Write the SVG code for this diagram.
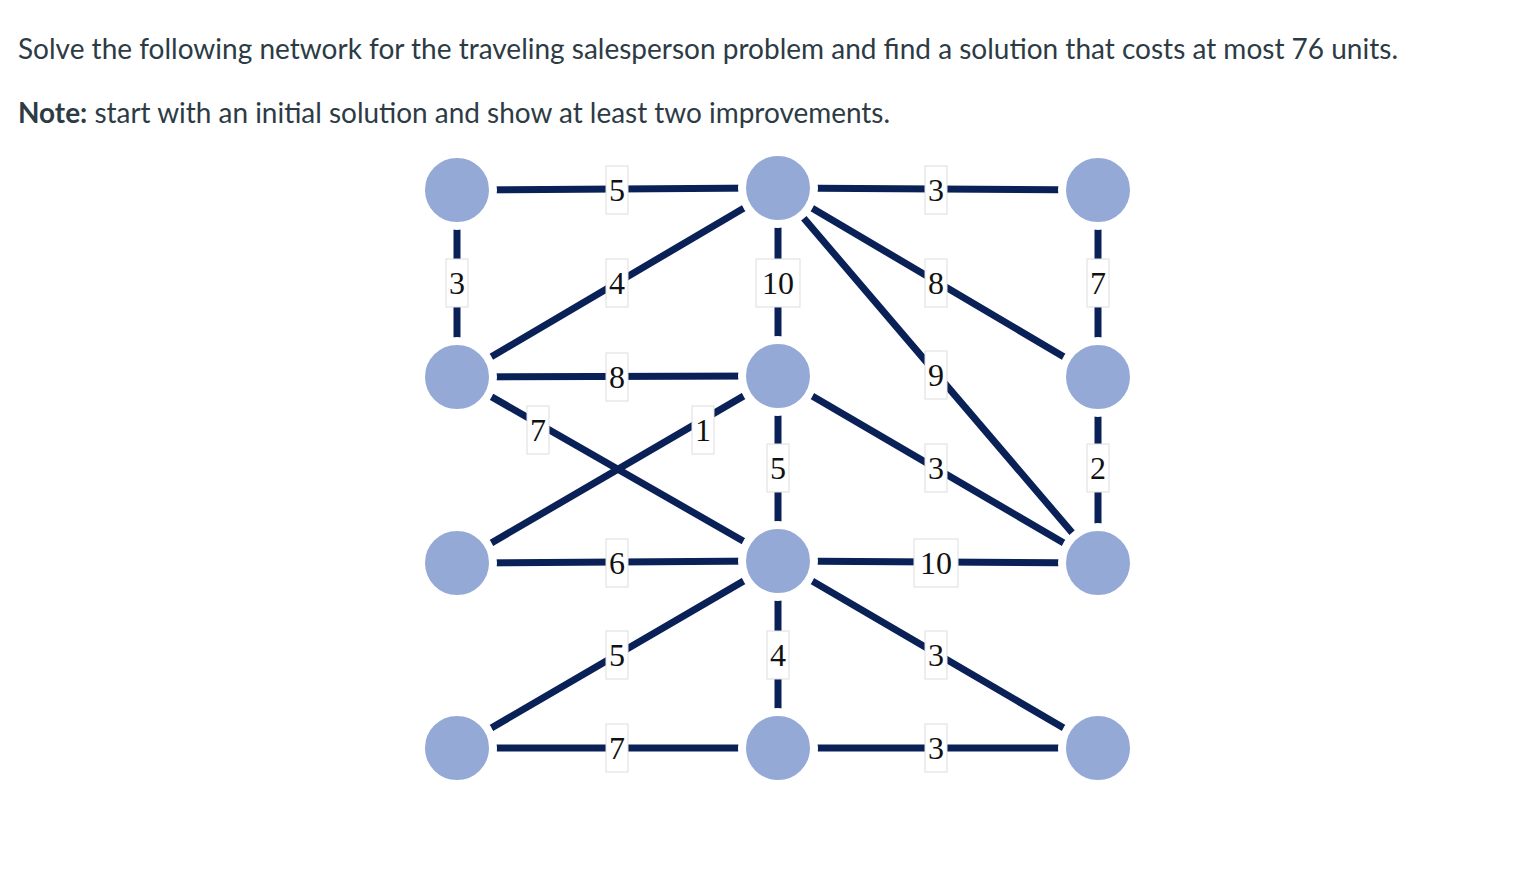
<svg xmlns="http://www.w3.org/2000/svg" width="1514" height="890" viewBox="0 0 1514 890">
<style>
.e{stroke:#0a2158;stroke-width:7;stroke-linecap:round;fill:none}
.n{fill:#94a9d6;stroke:#fff;stroke-width:8}
.lb{fill:#fff;stroke:#ddd;stroke-width:1}
.lt{font-family:"Liberation Serif",serif;font-size:32px;fill:#111;text-anchor:middle}
.t{font-family:Lato,"Liberation Sans",sans-serif;font-size:28px;fill:#2d3b45}
</style>
<rect width="1514" height="890" fill="#fff"/>
<text class="t" x="18" y="59" textLength="1380" lengthAdjust="spacingAndGlyphs">Solve the following network for the traveling salesperson problem and find a solution that costs at most 76 units.</text>
<text class="t" x="18" y="123" textLength="872" lengthAdjust="spacingAndGlyphs"><tspan font-weight="bold">Note:</tspan> start with an initial solution and show at least two improvements.</text>
<g id="connectors">
<line class="e" x1="457" y1="190" x2="778" y2="188"/>
<line class="e" x1="778" y1="188" x2="1098" y2="190"/>
<line class="e" x1="457" y1="190" x2="457" y2="377"/>
<line class="e" x1="457" y1="377" x2="778" y2="188"/>
<line class="e" x1="778" y1="188" x2="778" y2="376"/>
<line class="e" x1="778" y1="188" x2="1098" y2="377"/>
<line class="e" x1="778" y1="188" x2="1098" y2="563"/>
<line class="e" x1="1098" y1="190" x2="1098" y2="377"/>
<line class="e" x1="457" y1="377" x2="778" y2="376"/>
<line class="e" x1="457" y1="377" x2="778" y2="561"/>
<line class="e" x1="457" y1="563" x2="778" y2="376"/>
<line class="e" x1="778" y1="376" x2="778" y2="561"/>
<line class="e" x1="778" y1="376" x2="1098" y2="563"/>
<line class="e" x1="1098" y1="377" x2="1098" y2="563"/>
<line class="e" x1="457" y1="563" x2="778" y2="561"/>
<line class="e" x1="778" y1="561" x2="1098" y2="563"/>
<line class="e" x1="778" y1="561" x2="457" y2="748"/>
<line class="e" x1="778" y1="561" x2="778" y2="748"/>
<line class="e" x1="778" y1="561" x2="1098" y2="748"/>
<line class="e" x1="457" y1="748" x2="778" y2="748"/>
<line class="e" x1="778" y1="748" x2="1098" y2="748"/>
</g>
<g id="labels">
<g><rect class="lb" x="606" y="166" width="22" height="48"/><text class="lt" x="617" y="201">5</text></g>
<g><rect class="lb" x="925" y="166" width="22" height="48"/><text class="lt" x="936" y="201">3</text></g>
<g><rect class="lb" x="446" y="259" width="22" height="48"/><text class="lt" x="457" y="294">3</text></g>
<g><rect class="lb" x="606" y="259" width="22" height="48"/><text class="lt" x="617" y="294">4</text></g>
<g><rect class="lb" x="756" y="259" width="44" height="48"/><text class="lt" x="778" y="294">10</text></g>
<g><rect class="lb" x="925" y="259" width="22" height="48"/><text class="lt" x="936" y="294">8</text></g>
<g><rect class="lb" x="1087" y="259" width="22" height="48"/><text class="lt" x="1098" y="294">7</text></g>
<g><rect class="lb" x="606" y="353" width="22" height="48"/><text class="lt" x="617" y="388">8</text></g>
<g><rect class="lb" x="925" y="351" width="22" height="48"/><text class="lt" x="936" y="386">9</text></g>
<g><rect class="lb" x="527" y="406" width="22" height="48"/><text class="lt" x="538" y="441">7</text></g>
<g><rect class="lb" x="692" y="406" width="22" height="48"/><text class="lt" x="703" y="441">1</text></g>
<g><rect class="lb" x="767" y="444" width="22" height="48"/><text class="lt" x="778" y="479">5</text></g>
<g><rect class="lb" x="925" y="444" width="22" height="48"/><text class="lt" x="936" y="479">3</text></g>
<g><rect class="lb" x="1087" y="444" width="22" height="48"/><text class="lt" x="1098" y="479">2</text></g>
<g><rect class="lb" x="606" y="539" width="22" height="48"/><text class="lt" x="617" y="574">6</text></g>
<g><rect class="lb" x="914" y="539" width="44" height="48"/><text class="lt" x="936" y="574">10</text></g>
<g><rect class="lb" x="606" y="631" width="22" height="48"/><text class="lt" x="617" y="666">5</text></g>
<g><rect class="lb" x="767" y="631" width="22" height="48"/><text class="lt" x="778" y="666">4</text></g>
<g><rect class="lb" x="925" y="631" width="22" height="48"/><text class="lt" x="936" y="666">3</text></g>
<g><rect class="lb" x="606" y="724" width="22" height="48"/><text class="lt" x="617" y="759">7</text></g>
<g><rect class="lb" x="925" y="724" width="22" height="48"/><text class="lt" x="936" y="759">3</text></g>
</g>
<g id="n1"><circle class="n" cx="457" cy="190" r="36"/></g>
<g id="n2"><circle class="n" cx="778" cy="188" r="36"/></g>
<g id="n3"><circle class="n" cx="1098" cy="190" r="36"/></g>
<g id="n4"><circle class="n" cx="457" cy="377" r="36"/></g>
<g id="n5"><circle class="n" cx="778" cy="376" r="36"/></g>
<g id="n6"><circle class="n" cx="1098" cy="377" r="36"/></g>
<g id="n7"><circle class="n" cx="457" cy="563" r="36"/></g>
<g id="n8"><circle class="n" cx="778" cy="561" r="36"/></g>
<g id="n9"><circle class="n" cx="1098" cy="563" r="36"/></g>
<g id="n10"><circle class="n" cx="457" cy="748" r="36"/></g>
<g id="n11"><circle class="n" cx="778" cy="748" r="36"/></g>
<g id="n12"><circle class="n" cx="1098" cy="748" r="36"/></g>
</svg>
